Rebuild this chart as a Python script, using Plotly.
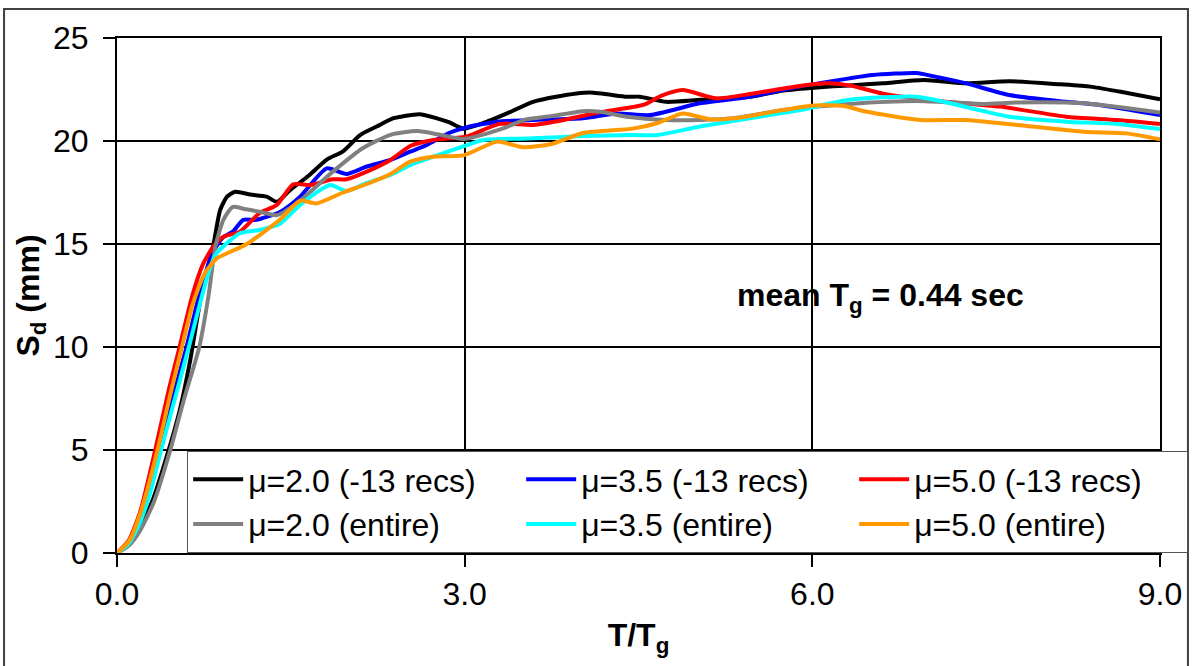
import plotly.graph_objects as go

# ---- data ----
x_mu20_13 = [0, 0.1, 0.2, 0.31, 0.43, 0.54, 0.63, 0.72, 0.78, 0.83, 0.89, 0.95, 1.02, 1.15, 1.29, 1.38, 1.49,
             1.65, 1.81, 1.95, 2.10, 2.24, 2.38, 2.47, 2.61, 2.76, 2.87, 2.99, 3.22, 3.39, 3.59, 3.79, 4.08,
             4.40, 4.51, 4.74, 5.03, 5.46, 5.75, 6.04, 6.32, 6.61, 6.96, 7.33, 7.70, 8.14, 8.40, 8.65, 9.0]
y_mu20_13 = [0, 0.5, 1.3, 2.6, 4.7, 6.9, 9.3, 12.3, 13.8, 14.9, 16.65, 17.3, 17.54, 17.4, 17.3, 17.05, 17.6,
             18.3, 19.1, 19.5, 20.3, 20.7, 21.1, 21.2, 21.3, 21.1, 20.9, 20.6, 21.0, 21.4, 21.9, 22.15, 22.35,
             22.15, 22.15, 21.9, 22.0, 22.15, 22.45, 22.6, 22.7, 22.8, 22.96, 22.8, 22.9, 22.75, 22.64, 22.4, 22.03]

x_mu35_13 = [0, 0.1, 0.2, 0.28, 0.37, 0.48, 0.6, 0.7, 0.8, 0.86, 0.92, 1.0, 1.09, 1.2, 1.41, 1.58, 1.81,
             1.98, 2.15, 2.36, 2.53, 2.67, 2.87, 3.02, 3.30, 3.59, 4.02, 4.31, 4.60, 5.03, 5.46, 5.89, 6.32,
             6.52, 6.90, 7.04, 7.33, 7.70, 8.19, 8.48, 9.0]
y_mu35_13 = [0, 0.5, 1.6, 3.0, 5.0, 7.5, 10.0, 12.3, 14.2, 14.9, 15.35, 15.6, 16.17, 16.17, 16.57, 17.3, 18.67,
             18.4, 18.75, 19.08, 19.48, 19.8, 20.4, 20.67, 20.95, 21.02, 21.1, 21.34, 21.26, 21.83, 22.15, 22.64, 23.04,
             23.2, 23.3, 23.15, 22.8, 22.23, 21.9, 21.75, 21.26]

x_mu50_13 = [0, 0.1, 0.2, 0.33, 0.45, 0.54, 0.65, 0.74, 0.83, 0.92, 1.06, 1.23, 1.38, 1.52, 1.67, 1.86,
             1.98, 2.15, 2.36, 2.53, 2.73, 3.02, 3.30, 3.59, 3.88, 4.17, 4.54, 4.70, 4.88, 5.17, 5.46, 5.89,
             6.12, 6.32, 6.61, 7.04, 7.62, 8.19, 8.63, 9.0]
y_mu50_13 = [0, 0.6, 2.0, 5.0, 8.0, 10.0, 12.5, 14.0, 14.87, 15.35, 15.6, 16.5, 16.9, 17.9, 17.86, 18.14,
             18.14, 18.5, 19.08, 19.76, 20.05, 20.22, 20.83, 20.78, 21.05, 21.4, 21.75, 22.2, 22.47, 22.07, 22.28, 22.67,
             22.8, 22.7, 22.3, 21.97, 21.67, 21.18, 21.02, 20.83]

x_mu20_all = [0, 0.1, 0.2, 0.32, 0.46, 0.58, 0.71, 0.79, 0.85, 0.92, 1.0, 1.1, 1.23, 1.38, 1.58, 1.86, 2.12,
              2.36, 2.59, 2.79, 2.99, 3.30, 3.53, 3.74, 4.02, 4.17, 4.40, 4.74, 5.03, 5.32, 5.75, 6.32, 6.90,
              7.47, 7.76, 8.34, 9.0]
y_mu20_all = [0, 0.35, 1.1, 2.5, 5.0, 7.5, 10.0, 12.5, 14.9, 16.2, 16.8, 16.7, 16.57, 16.4, 17.1, 18.5, 19.65,
              20.3, 20.48, 20.3, 20.1, 20.55, 21.05, 21.2, 21.45, 21.42, 21.18, 21.02, 21.02, 21.1, 21.5, 21.8, 21.94,
              21.8, 21.87, 21.83, 21.38]

x_mu35_all = [0, 0.1, 0.2, 0.29, 0.38, 0.5, 0.62, 0.72, 0.8, 0.86, 1.06, 1.23, 1.41, 1.58, 1.84, 1.98, 2.15,
              2.36, 2.53, 2.73, 3.02, 3.16, 3.59, 4.02, 4.45, 4.66, 5.03, 5.46, 5.89, 6.32, 6.90, 7.19, 7.70,
              8.19, 8.63, 9.0]
y_mu35_all = [0, 0.45, 1.5, 3.0, 5.0, 7.5, 10.0, 12.2, 13.8, 14.55, 15.52, 15.68, 16.0, 16.9, 17.86, 17.57, 17.95,
              18.35, 18.83, 19.24, 19.8, 20.05, 20.13, 20.24, 20.29, 20.29, 20.7, 21.1, 21.5, 22.0, 22.15, 21.83, 21.18,
              20.94, 20.83, 20.58]

x_mu50_all = [0, 0.1, 0.2, 0.35, 0.46, 0.56, 0.66, 0.76, 0.86, 0.95, 1.12, 1.41, 1.58, 1.72, 1.95, 2.15, 2.36,
              2.53, 2.73, 2.99, 3.28, 3.50, 3.74, 4.02, 4.45, 4.66, 4.88, 5.12, 5.32, 5.75, 6.01, 6.27, 6.47,
              6.93, 7.33, 7.90, 8.34, 8.71, 9.0]
y_mu50_all = [0, 0.55, 1.9, 5.0, 7.7, 10.0, 12.2, 13.6, 14.3, 14.55, 15.0, 16.2, 17.1, 16.97, 17.5, 17.9, 18.4,
              19.0, 19.24, 19.3, 19.97, 19.7, 19.84, 20.39, 20.6, 20.86, 21.34, 21.05, 21.1, 21.5, 21.72, 21.7, 21.42,
              21.02, 21.02, 20.7, 20.45, 20.37, 20.08]

series_names = ["μ=2.0 (-13 recs)", "μ=3.5 (-13 recs)", "μ=5.0 (-13 recs)",
                "μ=2.0 (entire)", "μ=3.5 (entire)", "μ=5.0 (entire)"]
series_x = [x_mu20_13, x_mu35_13, x_mu50_13, x_mu20_all, x_mu35_all, x_mu50_all]
series_y = [y_mu20_13, y_mu35_13, y_mu50_13, y_mu20_all, y_mu35_all, y_mu50_all]
series_colors = ["#000000", "#0000FF", "#FF0000", "#808080", "#00FFFF", "#FF9900"]

x_ticks = [0, 3, 6, 9]
x_tick_labels = ["0.0", "3.0", "6.0", "9.0"]
y_ticks = [0, 5, 10, 15, 20, 25]

FONT = "Liberation Sans, Arial, sans-serif"

fig = go.Figure()
for name, xs, ys, col in zip(series_names, series_x, series_y, series_colors):
    fig.add_trace(go.Scatter(x=xs, y=ys, name=name, mode="lines",
                             line=dict(color=col, width=4, shape="spline", smoothing=0.6)))

fig.update_layout(
    width=1192, height=666, autosize=False,
    margin=dict(l=117, r=32, t=38, b=113, autoexpand=False),
    paper_bgcolor="white", plot_bgcolor="white",
    font=dict(family=FONT, color="black", size=32),
    legend=dict(orientation="h", x=1.027, xanchor="right", y=-0.0001, yanchor="bottom",
                entrywidth=268, entrywidthmode="pixels", itemwidth=50,
                bgcolor="white", bordercolor="#555555", borderwidth=1,
                font=dict(family=FONT, size=32, color="black"), tracegroupgap=0),
    showlegend=True,
)
fig.update_xaxes(range=[0, 9], tickvals=x_ticks, ticktext=x_tick_labels,
                 showgrid=True, gridcolor="black", gridwidth=2,
                 showline=True, linecolor="black", linewidth=2, mirror=True,
                 ticks="outside", ticklen=12, tickwidth=2, tickcolor="black",
                 tickfont=dict(family=FONT, size=32), zeroline=False,
                 title=dict(text="<b>T/T<sub>g</sub></b>", font=dict(family=FONT, size=32), standoff=12))
fig.update_yaxes(range=[0, 25], tickvals=y_ticks,
                 showgrid=True, gridcolor="black", gridwidth=2,
                 showline=True, linecolor="black", linewidth=2, mirror=True,
                 ticks="outside", ticklen=12, tickwidth=2, tickcolor="black",
                 tickfont=dict(family=FONT, size=32), zeroline=False, ticklabelstandoff=8,
                 title=dict(text="<b>S<sub>d</sub> (mm)</b>", font=dict(family=FONT, size=32), standoff=4))

fig.add_annotation(x=6.59, y=12.4, xref="x", yref="y", showarrow=False,
                   text="<b>mean T<sub>g</sub> = 0.44 sec</b>",
                   font=dict(family=FONT, size=32, color="black"), xanchor="center", yanchor="middle")

# outer figure frame
fig.add_shape(type="rect", xref="paper", yref="paper",
              x0=-0.1083, x1=1.0268, y0=-0.228, y1=1.0563,
              line=dict(color="#404040", width=2), fillcolor="rgba(0,0,0,0)", layer="below")

fig.write_html("out.html")
